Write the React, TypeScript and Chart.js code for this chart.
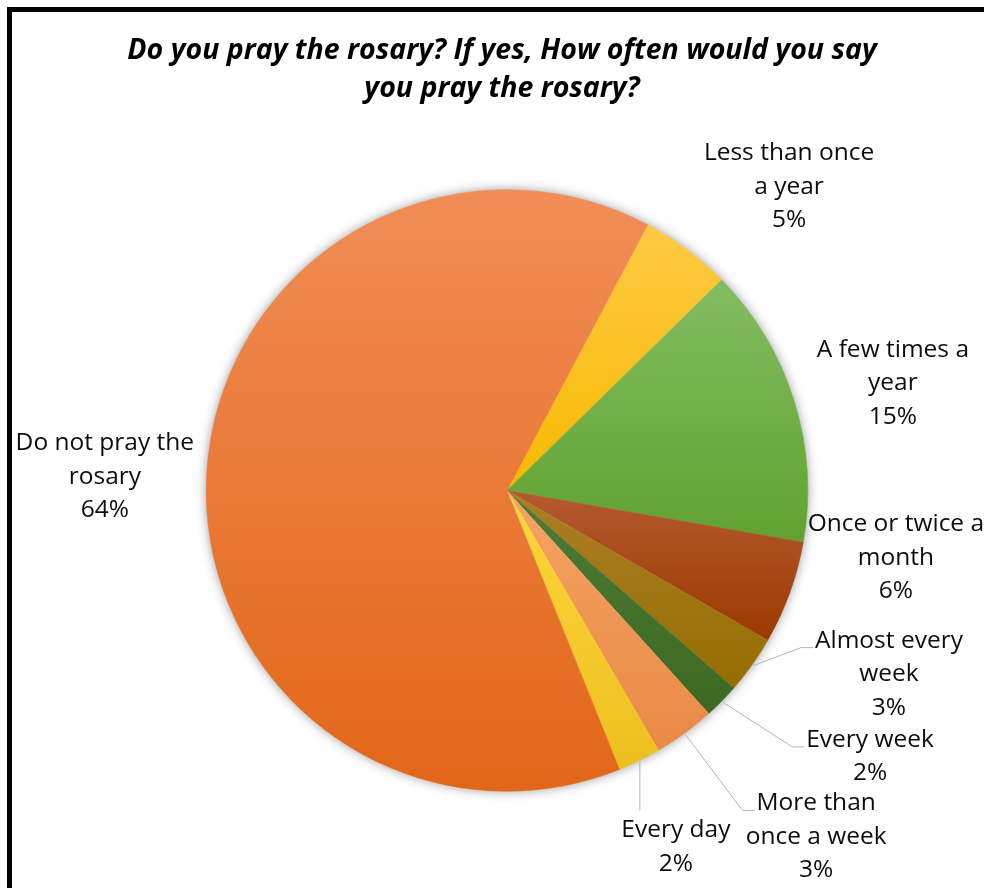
import React, { useEffect, useRef } from "react";
import { Chart, registerables } from "chart.js";

Chart.register(...registerables);

// ---------- data ----------
const titleLines = [
  "Do you pray the rosary? If yes, How often would you say",
  "you pray the rosary?",
];
const categories = [
  "Less than once a year",
  "A few times a year",
  "Once or twice a month",
  "Almost every week",
  "Every week",
  "More than once a week",
  "Every day",
  "Do not pray the rosary",
];
const values = [4.9, 15.1, 5.55, 3.1, 1.9, 3.3, 2.3, 63.85];
const labelLines = [
  ["Less than once", "a year"],
  ["A few times a", "year"],
  ["Once or twice a", "month"],
  ["Almost every", "week"],
  ["Every week"],
  ["More than", "once a week"],
  ["Every day"],
  ["Do not pray the", "rosary"],
];
const startAngleDeg = 27.9;

// ---------- styles ----------
const gradientStops: [string, string][] = [
  ["#FFCA45", "#F7B900"],
  ["#84BD62", "#60A230"],
  ["#B55A30", "#9B3900"],
  ["#AD7E26", "#956E00"],
  ["#4E7B36", "#3C6822"],
  ["#F6A364", "#E98946"],
  ["#FFD63C", "#ECBF1E"],
  ["#F18D56", "#E26618"],
];
// label block centre relative to pie centre, in radius units
const labelLayout: { dx: number; dy: number; leader: "left" | "top" | null }[] = [
  { dx: 0.937, dy: -1.009, leader: null },
  { dx: 1.282, dy: -0.357, leader: null },
  { dx: 1.292, dy: 0.224, leader: null },
  { dx: 1.269, dy: 0.61, leader: "left" },
  { dx: 1.206, dy: 0.884, leader: "left" },
  { dx: 1.027, dy: 1.151, leader: "left" },
  { dx: 0.561, dy: 1.184, leader: "top" },
  { dx: -1.336, dy: -0.046, leader: null },
];
const LABEL_FONT = "24.5px 'Open Sans'";
const LINE_H = 33.5;
const TITLE_FONT = "italic bold 28.5px 'Open Sans'";

function sliceAngles(data: number[], i: number) {
  const total = data.reduce((a, b) => a + b, 0);
  let a0 = startAngleDeg;
  for (let j = 0; j < i; j++) a0 += (data[j] / total) * 360;
  const a1 = a0 + (data[i] / total) * 360;
  return [a0, a1];
}

function geometry(chart: any) {
  const area = chart.chartArea;
  const cx = (area.left + area.right) / 2;
  const cy = (area.top + area.bottom) / 2;
  const r = Math.min(area.right - area.left, area.bottom - area.top) / 2;
  return { cx, cy, r };
}

function sliceGradient(ctx: any) {
  const i = ctx.dataIndex;
  const chart = ctx.chart;
  if (!chart.chartArea) return gradientStops[i][0];
  const { cy, r } = geometry(chart);
  const data = ctx.dataset.data as number[];
  const [a0, a1] = sliceAngles(data, i);
  const toRad = Math.PI / 180;
  const ys = [cy, cy - r * Math.cos(a0 * toRad), cy - r * Math.cos(a1 * toRad)];
  for (const k of [0, 180, 360, 540]) {
    if (a0 < k && k < a1) ys.push(cy - r * Math.cos(k * toRad));
  }
  const y0 = Math.min(...ys);
  const y1 = Math.max(...ys);
  const g = chart.ctx.createLinearGradient(0, y0, 0, y1);
  g.addColorStop(0, gradientStops[i][0]);
  g.addColorStop(1, gradientStops[i][1]);
  return g;
}

const decorPlugin = {
  id: "decor",
  beforeDraw(chart: any) {
    const c = chart.ctx;
    c.save();
    c.fillStyle = "#ffffff";
    c.fillRect(0, 0, chart.width, chart.height);
    c.fillStyle = "#000000";
    c.fillRect(7, 7, 5, chart.height - 7);
    c.fillRect(7, 7, chart.width - 7, 5);
    c.font = TITLE_FONT;
    c.textAlign = "center";
    c.textBaseline = "middle";
    titleLines.forEach((t, k) => c.fillText(t, 502, 51 + k * 38));
    c.restore();
  },
  beforeDatasetsDraw(chart: any) {
    const { cx, cy, r } = geometry(chart);
    const c = chart.ctx;
    c.save();
    c.shadowColor = "rgba(0,0,0,0.45)";
    c.shadowBlur = 12;
    c.shadowOffsetX = 0;
    c.shadowOffsetY = 0;
    c.fillStyle = "#ffffff";
    c.beginPath();
    c.arc(cx, cy, r - 1, 0, Math.PI * 2);
    c.fill();
    c.restore();
  },
  afterDatasetsDraw(chart: any) {
    const { cx, cy, r } = geometry(chart);
    const c = chart.ctx;
    const data = chart.data.datasets[0].data as number[];
    const total = data.reduce((a, b) => a + b, 0);
    const toRad = Math.PI / 180;
    c.save();
    c.font = LABEL_FONT;
    c.textAlign = "center";
    c.textBaseline = "middle";
    data.forEach((v, i) => {
      const lay = labelLayout[i];
      const lines = [...labelLines[i], Math.round((v / total) * 100) + "%"];
      const lx = cx + lay.dx * r;
      const ly = cy + lay.dy * r;
      const firstY = ly - ((lines.length - 1) * LINE_H) / 2;
      if (lay.leader) {
        const [a0, a1] = sliceAngles(data, i);
        const am = ((a0 + a1) / 2) * toRad;
        const sx = cx + (r + 1) * Math.sin(am);
        const sy = cy - (r + 1) * Math.cos(am);
        c.strokeStyle = "#A9B8CC";
        c.lineWidth = 1;
        c.beginPath();
        c.moveTo(sx, sy);
        if (lay.leader === "left") {
          const w = c.measureText(lines[0]).width;
          const ex = lx - w / 2 - 2;
          const ey = firstY + 7;
          c.lineTo(ex - 12, ey);
          c.lineTo(ex, ey);
        } else {
          c.lineTo(sx, firstY - 20);
        }
        c.stroke();
      }
      c.fillStyle = "#0d0d0d";
      lines.forEach((t, k) => c.fillText(t, lx, firstY + k * LINE_H));
    });
    c.restore();
  },
};

export default function App() {
  const ref = useRef<HTMLCanvasElement | null>(null);
  useEffect(() => {
    document.body.style.margin = "0";
    const canvas = ref.current;
    if (!canvas) return;
    const chart = new Chart(canvas, {
      type: "pie",
      data: {
        labels: categories,
        datasets: [
          {
            data: values,
            backgroundColor: sliceGradient as any,
            borderColor: sliceGradient as any,
            borderWidth: 0.5,
          },
        ],
      },
      options: {
        animation: false,
        responsive: false,
        rotation: startAngleDeg,
        layout: { padding: { left: 206, right: 176, top: 189.5, bottom: 96.5 } },
        plugins: {
          legend: { display: false },
          tooltip: { enabled: false },
          title: { display: false },
        },
      },
      plugins: [decorPlugin],
    });
    return () => chart.destroy();
  }, []);
  return (
    <div style={{ width: 984, height: 888, background: "#fff" }}>
      <canvas ref={ref} width={984} height={888} style={{ display: "block" }} />
    </div>
  );
}
